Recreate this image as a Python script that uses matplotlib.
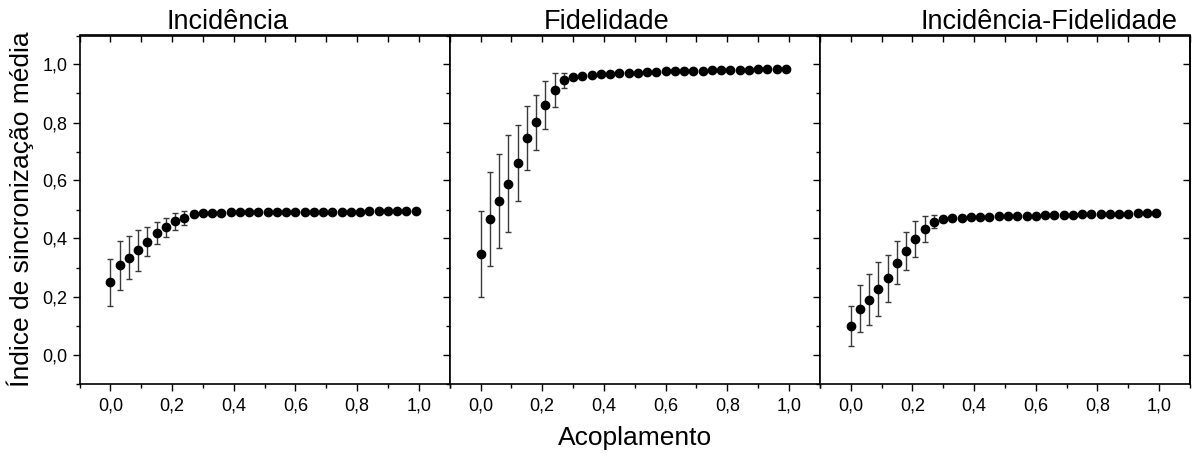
import numpy as np
import matplotlib
matplotlib.use("Agg")
import matplotlib.pyplot as plt
from matplotlib.ticker import MultipleLocator, FuncFormatter

plt.rcParams['font.family'] = ['Liberation Sans', 'DejaVu Sans']

acoplamento = [round(0.03 * i, 2) for i in range(34)]

titles = ["Incidência", "Fidelidade", "Incidência-Fidelidade"]

inc_mean = [0.249, 0.307, 0.334, 0.359, 0.389, 0.420, 0.438, 0.459, 0.471, 0.484,
            0.487, 0.489, 0.489, 0.490, 0.490, 0.490, 0.491, 0.491, 0.491, 0.491,
            0.492, 0.492, 0.492, 0.493, 0.493, 0.493, 0.493, 0.493, 0.494, 0.494,
            0.494, 0.494, 0.494, 0.495]
inc_err = [0.081, 0.083, 0.074, 0.071, 0.049, 0.038, 0.032, 0.030, 0.023, 0.010,
           0.006, 0.005, 0.004, 0.004, 0.003, 0.003, 0.003, 0.003, 0.003, 0.002,
           0.002, 0.002, 0.002, 0.002, 0.002, 0.002, 0.002, 0.002, 0.002, 0.002,
           0.002, 0.002, 0.002, 0.002]

fid_mean = [0.346, 0.467, 0.529, 0.589, 0.659, 0.746, 0.801, 0.859, 0.911, 0.945,
            0.957, 0.961, 0.964, 0.966, 0.968, 0.970, 0.971, 0.972, 0.974, 0.975,
            0.976, 0.977, 0.978, 0.979, 0.979, 0.980, 0.981, 0.981, 0.982, 0.982,
            0.983, 0.984, 0.984, 0.985]
fid_err = [0.148, 0.163, 0.162, 0.167, 0.131, 0.110, 0.095, 0.083, 0.058, 0.025,
           0.008, 0.006, 0.005, 0.004, 0.004, 0.003, 0.003, 0.003, 0.003, 0.003,
           0.002, 0.002, 0.002, 0.002, 0.002, 0.002, 0.002, 0.002, 0.002, 0.002,
           0.002, 0.002, 0.002, 0.002]

if_mean = [0.098, 0.158, 0.189, 0.225, 0.263, 0.317, 0.356, 0.397, 0.434, 0.458,
           0.466, 0.469, 0.471, 0.473, 0.474, 0.475, 0.476, 0.477, 0.478, 0.479,
           0.479, 0.480, 0.481, 0.481, 0.482, 0.483, 0.484, 0.484, 0.485, 0.486,
           0.486, 0.487, 0.488, 0.489]
if_err = [0.068, 0.082, 0.087, 0.093, 0.081, 0.073, 0.066, 0.062, 0.045, 0.023,
          0.008, 0.006, 0.005, 0.004, 0.004, 0.003, 0.003, 0.003, 0.003, 0.003,
          0.002, 0.002, 0.002, 0.002, 0.002, 0.002, 0.002, 0.002, 0.002, 0.002,
          0.002, 0.002, 0.002, 0.002]

means = [inc_mean, fid_mean, if_mean]
errs = [inc_err, fid_err, if_err]

fig = plt.figure(figsize=(11.94, 4.59), dpi=100)
left_px, right_px, top_px, bot_px = 79.5, 1190, 35.5, 383.5
W, H = 1194, 459
pw = (right_px - left_px) / 3
comma = FuncFormatter(lambda v, p: f"{v:.1f}".replace(".", ","))
title_x = [0.40, 0.425, 0.62]

axes = []
for i in range(3):
    ax = fig.add_axes([(left_px + i * pw) / W, 1 - bot_px / H, pw / W, (bot_px - top_px) / H])
    axes.append(ax)
    ax.errorbar(acoplamento, means[i], yerr=errs[i], fmt='o', color='black',
                ecolor='#3a3a3a', elinewidth=1.0, capsize=2.3, capthick=1.0,
                markersize=6.0, zorder=3)
    ax.set_xlim(-0.1, 1.1)
    ax.set_ylim(-0.1, 1.1)
    ax.xaxis.set_major_locator(MultipleLocator(0.2))
    ax.xaxis.set_minor_locator(MultipleLocator(0.1))
    ax.yaxis.set_major_locator(MultipleLocator(0.2))
    ax.yaxis.set_minor_locator(MultipleLocator(0.1))
    ax.xaxis.set_major_formatter(comma)
    ax.yaxis.set_major_formatter(comma)
    for s in ax.spines.values():
        s.set_linewidth(1.2)
    ax.tick_params(axis='x', which='both', direction='out', bottom=True, top=False,
                   labelsize=13, width=1.0)
    ax.tick_params(axis='x', which='major', length=5, pad=5)
    ax.tick_params(axis='x', which='minor', length=3)
    ax.tick_params(axis='y', which='both', direction='out', left=True, right=False,
                   labelsize=13, width=1.0)
    ax.tick_params(axis='y', which='major', length=5)
    ax.tick_params(axis='y', which='minor', length=3)
    ax.set_title(titles[i], fontsize=19.5, pad=3, x=title_x[i])
    if i > 0:
        ax.tick_params(axis='y', labelleft=False)

    sec = ax.secondary_xaxis('top')
    sec.xaxis.set_major_locator(MultipleLocator(0.1))
    sec.tick_params(axis='x', which='major', direction='in', length=5, width=1.0, labeltop=False)
    sec.spines['top'].set_linewidth(1.2)
    if i == 2:
        sec2 = ax.secondary_yaxis('right')
        sec2.yaxis.set_major_locator(MultipleLocator(0.2))
        sec2.tick_params(axis='y', which='major', direction='in', length=5, width=1.0, labelright=False)
        sec2.spines['right'].set_linewidth(1.2)

axes[0].set_ylabel("Índice de sincronização média", fontsize=19, labelpad=6)
fig.text((left_px + 1.5 * pw) / W, 0.02, "Acoplamento", ha='center', va='bottom', fontsize=19)

fig.savefig("out.png", dpi=100)
